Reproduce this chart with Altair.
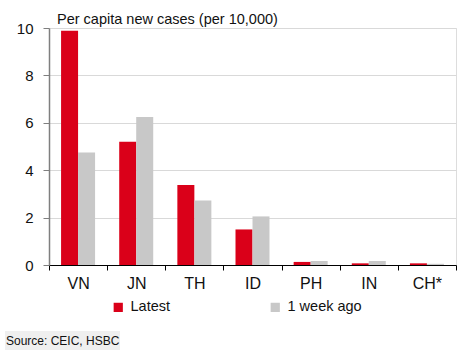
import altair as alt
import pandas as pd

countries = ["VN", "JN", "TH", "ID", "PH", "IN", "CH*"]
latest = [9.88, 5.2, 3.38, 1.5, 0.13, 0.07, 0.07]
week_ago = [4.75, 6.25, 2.72, 2.05, 0.17, 0.17, 0.05]
series = ["Latest", "1 week ago"]
colors = ["#DA0019", "#C8C8C8"]
y_ticks = [0, 2, 4, 6, 8, 10]
title_text = "Per capita new cases (per 10,000)"
source_text = "Source: CEIC, HSBC"

FONT = "Liberation Sans, Arial, sans-serif"

rows = []
for c, a, b in zip(countries, latest, week_ago):
    rows.append({"country": c, "series": series[0], "value": a})
    rows.append({"country": c, "series": series[1], "value": b})
df = pd.DataFrame(rows)

W, H = 407, 237

bars = alt.Chart(df).mark_bar().encode(
    x=alt.X("country:N", sort=countries,
            scale=alt.Scale(paddingInner=0, paddingOuter=0),
            axis=alt.Axis(title=None, labelAngle=0, labelFont=FONT, labelFontSize=16,
                          labelColor="#111111", domainColor="#000000", domainWidth=1,
                          tickColor="#000000", tickSize=5, tickBand="extent",
                          labelPadding=5, grid=False)),
    xOffset=alt.XOffset("series:N", sort=series,
                        scale=alt.Scale(paddingInner=0, paddingOuter=0.71)),
    y=alt.Y("value:Q", scale=alt.Scale(domain=[0, 10], nice=False),
            axis=alt.Axis(title=None, values=y_ticks, labelFont=FONT, labelFontSize=15,
                          labelColor="#111111", domainColor="#7F7F7F", domainWidth=1.5,
                          tickColor="#7F7F7F", tickSize=6, labelPadding=10,
                          gridColor="#D9D9D9", gridWidth=1)),
    color=alt.Color("series:N", sort=series,
                    scale=alt.Scale(domain=series, range=colors),
                    legend=alt.Legend(title=None, orient="none", direction="horizontal",
                                      columns=2, legendX=62, legendY=272, padding=0,
                                      symbolType="square", symbolSize=85,
                                      symbolStrokeWidth=0, labelFont=FONT,
                                      labelFontSize=14.5, labelColor="#111111",
                                      labelOffset=5, columnPadding=98)),
)

src = pd.DataFrame({"t": [source_text]})
box = alt.Chart(src).mark_rect(color="#EFEFEF").encode(
    x=alt.value(-44), x2=alt.value(71), y=alt.value(H + 66), y2=alt.value(H + 85))
stext = alt.Chart(src).mark_text(align="left", baseline="middle", font=FONT,
                                 fontSize=12, color="#111111").encode(
    x=alt.value(-43), y=alt.value(H + 76), text="t:N")

ttl = pd.DataFrame({"t": [title_text]})
ttext = alt.Chart(ttl).mark_text(align="left", baseline="alphabetic", font=FONT,
                                 fontSize=14.5, color="#111111").encode(
    x=alt.value(8), y=alt.value(-4), text="t:N")

chart = alt.layer(bars, box, stext, ttext).properties(
    width=W, height=H,
    autosize=alt.AutoSizeParams(type="none"),
    padding={"left": 49, "top": 28, "right": 5, "bottom": 86},
).configure_view(stroke=None).configure(background="white")

chart.save("out.html", embed_options={"renderer": "svg", "actions": False})
